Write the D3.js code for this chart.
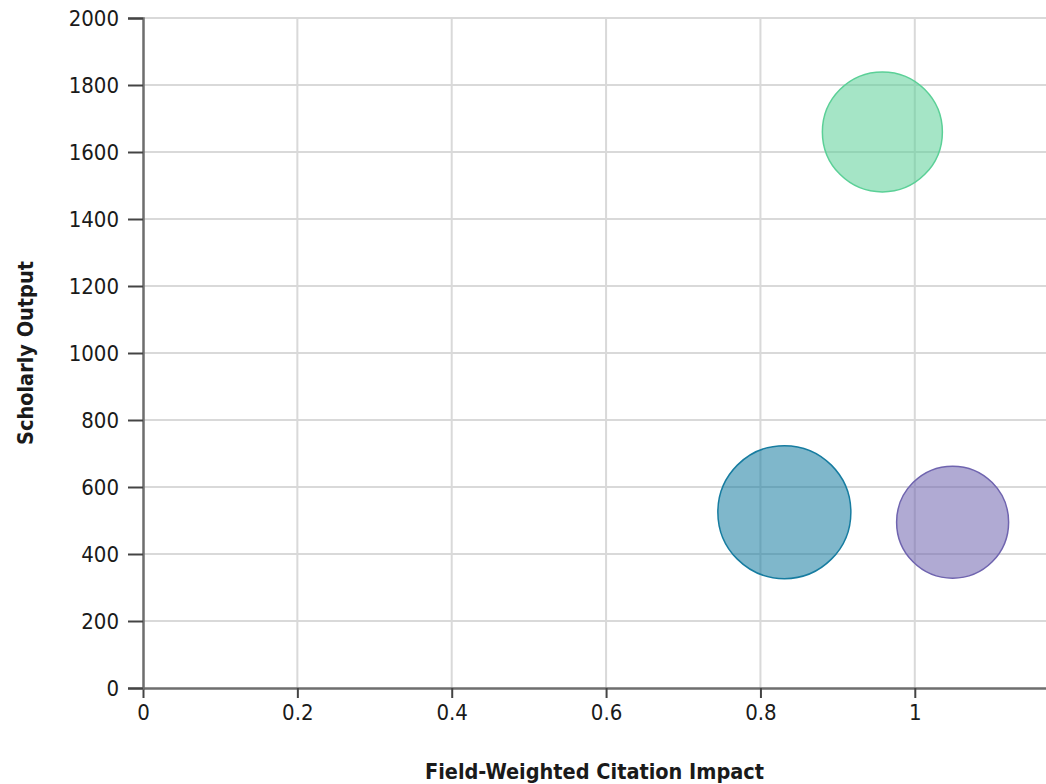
<!DOCTYPE html>
<html>
<head>
<meta charset="utf-8">
<script src="https://cdn.jsdelivr.net/npm/d3@7"></script>
<style>
  body { margin: 0; background: #fff; }
  .axis text { font-family: "DejaVu Sans Condensed", "DejaVu Sans", sans-serif; font-size: 22px; fill: #1a1a1a; }
  .axis .domain { stroke: #6e6e6e; stroke-width: 2.5px; }
  .axis .tick line { stroke: #444; stroke-width: 2px; }
  .grid line { stroke: #d9d9d9; stroke-width: 2px; }
  .axis-label { font-family: "DejaVu Sans Condensed", "DejaVu Sans", sans-serif; font-weight: bold; font-size: 21.5px; fill: #1a1a1a; }
</style>
</head>
<body>
<div id="chart-area"></div>
<script>
// Data
const names = ['A', 'B', 'C']
const fwci = [0.958, 0.831, 1.049]
const output = [1660, 525, 495]
const size = [814, 1000, 709]
const colors = ['#5bd097', '#167ca0', '#6f64af']

const xTicks = [0, 0.2, 0.4, 0.6, 0.8, 1]
const yTicks = [0, 200, 400, 600, 800, 1000, 1200, 1400, 1600, 1800, 2000]

// Sizing
const W = 1046, H = 784
const MARGIN = { LEFT: 143, RIGHT: 0, TOP: 18, BOTTOM: 96 }

const svg = d3.select('#chart-area').append('svg')
  .attr('width', W)
  .attr('height', H)

const x = d3.scaleLinear()
  .domain([0, 1.17])
  .range([MARGIN.LEFT, W - MARGIN.RIGHT])

const y = d3.scaleLinear()
  .domain([0, 2000])
  .range([H - MARGIN.BOTTOM, MARGIN.TOP])

const r = d3.scaleSqrt()
  .domain([0, 1000])
  .range([0, 66.5])

// grid
const grid = svg.append('g').attr('class', 'grid')
grid.selectAll('.hy').data(yTicks.filter(d => d > 0)).enter().append('line')
  .attr('x1', x(0)).attr('x2', W)
  .attr('y1', d => y(d)).attr('y2', d => y(d))
grid.selectAll('.vx').data(xTicks.filter(d => d > 0)).enter().append('line')
  .attr('x1', d => x(d)).attr('x2', d => x(d))
  .attr('y1', y(2000)).attr('y2', y(0))

// axes
const xAxis = d3.axisBottom(x)
  .tickValues(xTicks)
  .tickSize(10)
  .tickSizeOuter(0)
  .tickPadding(6)
  .tickFormat(d3.format('~g'))
svg.append('g')
  .attr('class', 'x axis')
  .attr('transform', `translate(0, ${y(0)})`)
  .call(xAxis)

const yAxis = d3.axisLeft(y)
  .tickValues(yTicks)
  .tickSize(15)
  .tickSizeOuter(15)
  .tickPadding(9)
  .tickFormat(d3.format('d'))
svg.append('g')
  .attr('class', 'y axis')
  .attr('transform', `translate(${x(0)}, 0)`)
  .call(yAxis)

// bubbles
const idx = d3.range(names.length).sort((a, b) => size[b] - size[a])
svg.append('g').selectAll('circle').data(idx).enter().append('circle')
  .attr('cx', i => x(fwci[i]))
  .attr('cy', i => y(output[i]))
  .attr('r', i => r(size[i]))
  .attr('fill', i => colors[i])
  .attr('fill-opacity', 0.55)
  .attr('stroke', i => colors[i])
  .attr('stroke-width', 1.5)

// labels
svg.append('text')
  .attr('class', 'axis-label')
  .attr('x', (x(0) + W) / 2)
  .attr('y', 779)
  .attr('text-anchor', 'middle')
  .text('Field-Weighted Citation Impact')

svg.append('text')
  .attr('class', 'axis-label')
  .attr('transform', `translate(33, ${(y(0) + y(2000)) / 2}) rotate(-90)`)
  .attr('text-anchor', 'middle')
  .text('Scholarly Output')
</script>
</body>
</html>
